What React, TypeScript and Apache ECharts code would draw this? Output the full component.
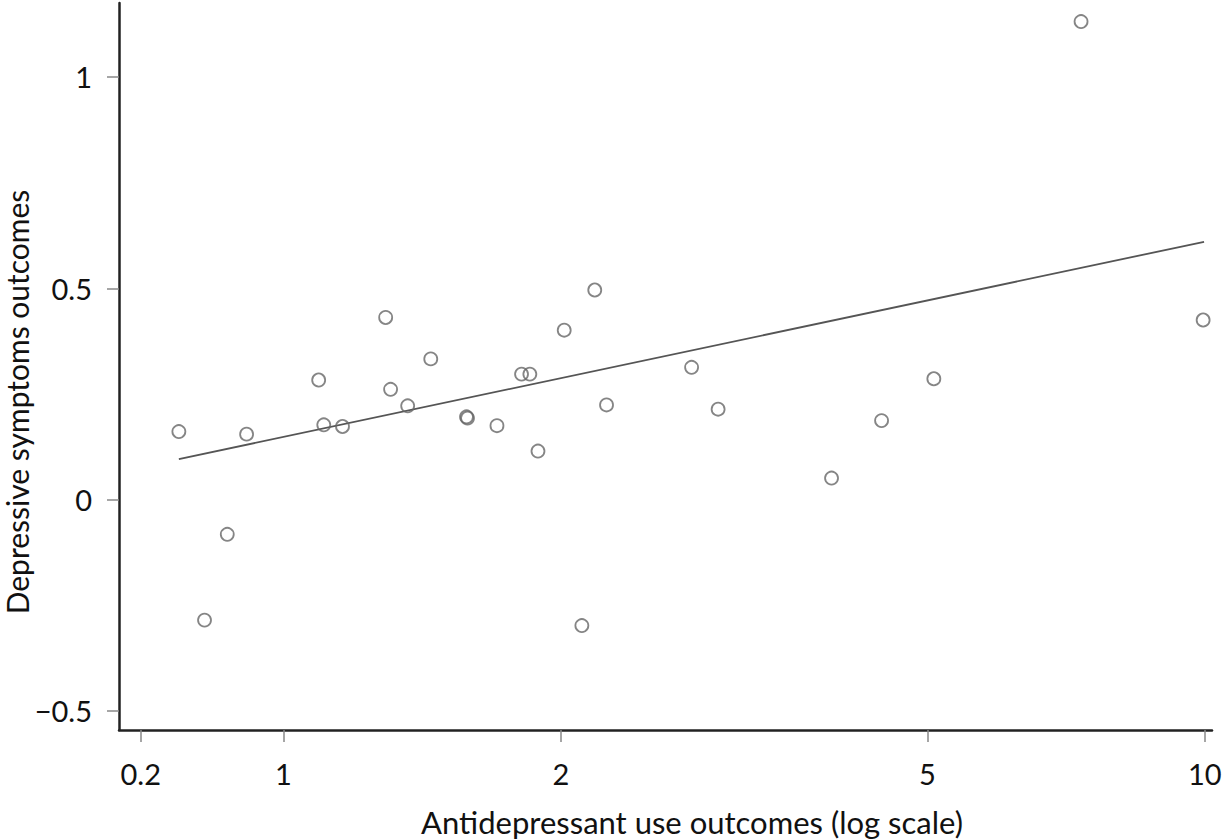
import React, { useEffect, useRef } from "react";
import * as echarts from "echarts";

// Antidepressant use outcomes (original scale) and depressive symptoms outcomes
const xValues = [
  0.77, 0.821, 0.869, 0.912, 1.092, 1.106, 1.159, 1.291, 1.307, 1.364, 1.445,
  1.58, 1.584, 1.705, 1.813, 1.851, 1.889, 2.017, 2.108, 2.177, 2.242, 2.773,
  2.963, 3.934, 4.458, 5.08, 7.339, 9.957,
];
const yValues = [
  0.161, -0.285, -0.082, 0.155, 0.283, 0.177, 0.173, 0.431, 0.261, 0.222, 0.333,
  0.196, 0.193, 0.175, 0.297, 0.297, 0.115, 0.401, -0.298, 0.496, 0.224, 0.313,
  0.214, 0.051, 0.187, 0.286, 1.131, 0.425,
];

// Fitted regression line endpoints
const fitX = [0.77, 9.98];
const fitY = [0.096, 0.61];

// Axis ticks
const xTickValues = [0.7, 1, 2, 5, 10];
const xTickLabels = ["0.2", "1", "2", "5", "10"];
const yTickValues = [-0.5, 0, 0.5, 1];

const xTitle = "Antidepressant use outcomes (log scale)";
const yTitle = "Depressive symptoms outcomes";

const X_MIN = 0.663;
const X_MAX = 10.18;
const Y_MIN = -0.545;
const Y_MAX = 1.175;

const FONT = "Lato, 'Noto Sans', sans-serif";

export default function App() {
  const ref = useRef<HTMLDivElement>(null);

  useEffect(() => {
    if (!ref.current) return;
    const chart = echarts.init(ref.current, undefined, { renderer: "svg" });
    const lg = (v: number) => Math.log10(v);
    const xTickLog = xTickValues.map(lg);

    const option = {
      animation: false,
      backgroundColor: "#ffffff",
      grid: {
        left: 119,
        right: 15,
        top: 3,
        bottom: 110,
        containLabel: false,
        outerBoundsMode: "none",
      },
      graphic: [
        {
          type: "text",
          x: 692,
          y: 822,
          style: {
            text: xTitle,
            fontFamily: FONT,
            fontSize: 31,
            fill: "#111",
            textAlign: "center",
            textVerticalAlign: "middle",
          },
        },
        {
          type: "text",
          x: 17,
          y: 402,
          rotation: Math.PI / 2,
          style: {
            text: yTitle,
            fontFamily: FONT,
            fontSize: 30,
            lineHeight: 30,
            fill: "#111",
            textAlign: "center",
            textVerticalAlign: "middle",
          },
        },
      ],
      xAxis: {
        type: "value",
        min: lg(X_MIN),
        max: lg(X_MAX),
        splitLine: { show: false },
        axisLine: { onZero: false, lineStyle: { color: "#222", width: 2.5 } },
        axisTick: {
          customValues: xTickLog,
          length: 12,
          lineStyle: { color: "#888", width: 1.5 },
        },
        axisLabel: {
          customValues: xTickLog,
          margin: 29,
          fontFamily: FONT,
          fontSize: 29,
          color: "#111",
          formatter: (v: number) => {
            let best = 0;
            let bd = Infinity;
            xTickLog.forEach((t, i) => {
              const d = Math.abs(t - v);
              if (d < bd) {
                bd = d;
                best = i;
              }
            });
            return xTickLabels[best];
          },
        },
      },
      yAxis: {
        type: "value",
        min: Y_MIN,
        max: Y_MAX,
        splitLine: { show: false },
        axisLine: { onZero: false, lineStyle: { color: "#222", width: 2.5 } },
        axisTick: {
          customValues: yTickValues,
          length: 12,
          lineStyle: { color: "#888", width: 1.5 },
        },
        axisLabel: {
          customValues: yTickValues,
          margin: 27,
          fontFamily: FONT,
          fontSize: 29,
          color: "#111",
          formatter: (v: number) =>
            v < 0 ? "\u2212" + String(Math.abs(v)) : String(v),
        },
      },
      series: [
        {
          type: "line",
          data: fitX.map((x, i) => [lg(x), fitY[i]]),
          showSymbol: false,
          symbol: "none",
          lineStyle: { color: "#555", width: 1.8 },
          z: 2,
        },
        {
          type: "scatter",
          data: xValues.map((x, i) => [lg(x), yValues[i]]),
          symbol: "circle",
          symbolSize: 13,
          itemStyle: {
            color: "rgba(255,255,255,0)",
            borderColor: "#666",
            borderWidth: 1.8,
          },
          z: 3,
        },
      ],
    };
    chart.setOption(option as any);
    return () => chart.dispose();
  }, []);

  return (
    <div
      ref={ref}
      style={{
        position: "fixed",
        left: 0,
        top: 0,
        width: 1227,
        height: 840,
        background: "#fff",
      }}
    />
  );
}
